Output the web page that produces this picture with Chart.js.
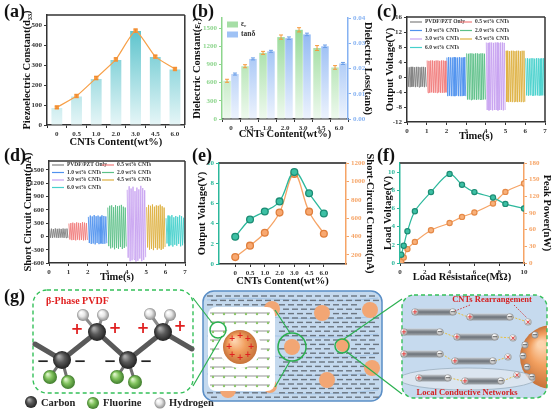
<!DOCTYPE html>
<html>
<head>
<meta charset="utf-8">
<script src="https://cdn.jsdelivr.net/npm/chart.js@4.4.1/dist/chart.umd.min.js"></script>
<style>
  body { margin: 0; background: #fff; }
  #wrap { position: relative; width: 554px; height: 411px; overflow: hidden; background: #fff; }
  canvas { position: absolute; }
  .tag { position: absolute; font: bold 18px 'Liberation Serif', 'DejaVu Serif', serif; color: #111; }
</style>
</head>
<body>
<div id="wrap">
  <canvas id="chartA" width="173" height="147" style="left:17px;top:6px"></canvas>
  <canvas id="chartB" width="191" height="140" style="left:187px;top:5px"></canvas>
  <canvas id="chartC" width="174" height="142" style="left:380px;top:5px"></canvas>
  <canvas id="chartD" width="172" height="138" style="left:18px;top:150px"></canvas>
  <canvas id="chartE" width="188" height="142" style="left:192px;top:150px"></canvas>
  <canvas id="chartF" width="176" height="138" style="left:378px;top:150px"></canvas>
  <canvas id="scheme" width="554" height="126" style="left:0;top:285px"></canvas>
  <div class="tag" style="left:4px;top:1px">(a)</div>
  <div class="tag" style="left:192px;top:1px">(b)</div>
  <div class="tag" style="left:377px;top:1px">(c)</div>
  <div class="tag" style="left:4px;top:145px">(d)</div>
  <div class="tag" style="left:192px;top:145px">(e)</div>
  <div class="tag" style="left:377px;top:145px">(f)</div>
  <div class="tag" style="left:4px;top:286px">(g)</div>
</div>
<script>
// ---- data ----
const contents = ['0', '0.5', '1.0', '2.0', '3.0', '4.5', '6.0'];

// (a) piezoelectric constant d33
const d33Bars = [85, 143, 230, 325, 470, 340, 278];
const d33Line = [88, 145, 235, 328, 472, 342, 280];
const d33Err = [6, 6, 8, 8, 8, 7, 6];

// (b) dielectric constant / loss
const epsR = [630, 870, 1090, 1350, 1470, 1170, 850];
const epsErr = [25, 25, 25, 35, 35, 40, 30];
const tanD = [0.0178, 0.0238, 0.0268, 0.0320, 0.0335, 0.0288, 0.0220];
const tanErr = [0.0004, 0.0004, 0.0004, 0.0005, 0.0005, 0.0005, 0.0004];

// (c) output voltage waveforms, peak / trough per half cycle (V)
const sampleNames = ['PVDF/PZT Only', '0.5 wt% CNTs', '1.0 wt% CNTs', '2.0 wt% CNTs', '3.0 wt% CNTs', '4.5 wt% CNTs', '6.0 wt% CNTs'];
const vPvdf = [2.7,-2.6,2.6,-2.7,2.7,-2.6,2.7,-2.6,2.6,-2.7,2.7,-2.6,2.7,-2.7,2.6,-2.6,2.7,-2.6,2.7,-2.7,2.6,-2.6];
const v05 = [4.4,-4.2,4.3,-4.2,4.4,-4.1,4.4,-4.2,4.3,-4.2,4.4,-4.2,4.4,-4.1,4.3,-4.2,4.4,-4.2,4.4,-4.2,4.3,-4.1];
const v10 = [5.2,-5.1,5.3,-5.0,5.2,-5.1,5.2,-5.1,5.3,-5.1,5.2,-5.0,5.2,-5.1,5.3,-5.1,5.2,-5.1,5.2,-5.0,5.3,-5.1];
const v20 = [6.3,-6.0,6.2,-6.0,6.3,-6.1,6.3,-6.0,6.2,-6.0,6.3,-6.1,6.3,-6.0,6.2,-6.0,6.3,-6.1,6.3,-6.0,6.2,-6.0];
const v30 = [9.2,-8.8,9.1,-8.9,9.2,-8.8,9.2,-8.9,9.1,-8.8,9.2,-8.8,9.2,-8.9,9.1,-8.8,9.2,-8.8,9.2,-8.9,9.1,-8.8];
const v45 = [7.0,-6.6,7.0,-6.7,6.9,-6.6,7.0,-6.7,7.0,-6.6,6.9,-6.6,7.0,-6.7,7.0,-6.6,6.9,-6.7,7.0,-6.6,7.0,-6.6];
const v60 = [5.0,-4.9,5.0,-5.0,4.9,-4.9,5.0,-4.9,5.0,-5.0,4.9,-4.9,5.0,-4.9,5.0,-5.0,4.9,-4.9,5.0,-4.9,5.0,-5.0];

// (d) short circuit current waveforms (nA)
const iPvdf = [170,-30,175,-35,165,-25,180,-30,170,-35,175,-30,168,-28,178,-34,172,-30,176,-32];
const i05 = [290,-70,300,-85,310,-80,295,-90,315,-75,305,-85,300,-80,320,-90,310,-85,300,-80];
const i10 = [440,-150,470,-170,450,-160,480,-180,455,-150,470,-175,445,-160,475,-170,460,-165,450,-155];
const i20 = [650,-220,690,-270,700,-250,660,-290,705,-260,680,-280,690,-240,710,-285,670,-260,650,-230];
const i30 = [1050,-480,1130,-560,1080,-540,1120,-520,1020,-570,1100,-550,1060,-500,1140,-560,1090,-530,1040,-470];
const i45 = [660,-250,710,-300,690,-280,720,-310,670,-260,700,-300,690,-270,715,-305,680,-280,650,-240];
const i60 = [410,-160,470,-220,450,-200,480,-230,430,-190,460,-210,440,-170,475,-225,455,-200,420,-160];

// (e) output voltage and short-circuit current vs CNT content
const outVoltage = [2.7, 4.4, 5.2, 6.2, 9.1, 7.0, 5.0];
const outCurrent = [175, 300, 440, 660, 1080, 670, 430];

// (f) load resistance sweep
const loadR = [0.1, 0.3, 0.6, 1.2, 2.5, 4, 5, 6, 7.5, 8.5, 10];
const loadV = [0.9, 1.9, 3.5, 5.7, 7.8, 9.8, 8.6, 7.8, 7.2, 6.5, 6.0];
const peakP = [3, 10, 25, 38, 59, 72, 83, 91, 107, 128, 143];

// ---- styling ----
const SERIF = "'Liberation Serif', 'DejaVu Serif', serif";
Chart.defaults.font.family = SERIF;
Chart.defaults.font.weight = 'bold';
Chart.defaults.font.size = 7;
Chart.defaults.animation = false;
Chart.defaults.plugins.legend.display = false;
Chart.defaults.plugins.tooltip.enabled = false;

const waveColors = ['#808080', '#f07c7c', '#4f92ee', '#5cc088', '#c7a2f0', '#deb040', '#45d0cc'];
const teal = '#2cb89c', orange = '#f6a466';

// error bars drawn through the dataset's own y scale
Chart.register({
  id: 'errBars',
  afterDatasetsDraw(chart) {
    const c = chart.ctx;
    chart.data.datasets.forEach((ds, i) => {
      if (!ds.errors) return;
      const meta = chart.getDatasetMeta(i);
      const sc = chart.scales[meta.yAxisID];
      c.save();
      c.strokeStyle = ds.errorColor;
      c.lineWidth = 1;
      meta.data.forEach((el, k) => {
        const v = ds.data[k], e = ds.errors[k];
        const y1 = sc.getPixelForValue(v + e), y2 = sc.getPixelForValue(v - e);
        c.beginPath();
        c.moveTo(el.x, y1); c.lineTo(el.x, y2);
        c.moveTo(el.x - 2, y1); c.lineTo(el.x + 2, y1);
        c.moveTo(el.x - 2, y2); c.lineTo(el.x + 2, y2);
        c.stroke();
      });
      c.restore();
    });
  }
});

// top / right frame lines
Chart.register({
  id: 'frame',
  afterDatasetsDraw(chart, args, o) {
    if (!o || (!o.top && !o.right)) return;
    const c = chart.ctx, a = chart.chartArea;
    c.save();
    c.lineWidth = o.width || 1.5;
    if (o.top) { c.strokeStyle = o.top; c.beginPath(); c.moveTo(a.left, a.top); c.lineTo(a.right, a.top); c.stroke(); }
    if (o.right) { c.strokeStyle = o.right; c.beginPath(); c.moveTo(a.right, a.top); c.lineTo(a.right, a.bottom); c.stroke(); }
    c.restore();
  }
});

// small legend inside the plot area, in columns
Chart.register({
  id: 'cornerLegend',
  afterDraw(chart, args, o) {
    if (!o || !o.show) return;
    const c = chart.ctx, a = chart.chartArea;
    c.save();
    c.font = 'bold ' + o.size + 'px ' + SERIF;
    c.textBaseline = 'middle';
    chart.data.datasets.forEach((ds, i) => {
      if (!ds.label) return;
      const col = i % o.cols, row = Math.floor(i / o.cols);
      const x = a.left + o.x0 + col * o.colW, y = a.top + o.y0 + row * o.rowH;
      if (o.box) {
        c.fillStyle = ds.legendColor;
        c.fillRect(x, y - 3, o.lineW, 6);
      } else {
        c.strokeStyle = ds.borderColor; c.lineWidth = 1.2;
        c.beginPath(); c.moveTo(x, y); c.lineTo(x + o.lineW, y); c.stroke();
      }
      c.fillStyle = '#333';
      c.fillText(ds.label, x + o.lineW + 3, y);
    });
    c.restore();
  }
});

function vGrad(top, bottom) {
  return ctx => {
    const ch = ctx.chart, a = ch.chartArea;
    if (!a) return top;
    const g = ch.ctx.createLinearGradient(0, a.bottom, 0, a.top);
    g.addColorStop(0, bottom);
    g.addColorStop(1, top);
    return g;
  };
}

function axis(o) {
  const col = o.color || '#333';
  const s = {
    type: o.type || 'linear',
    position: o.position,
    grid: { display: true, drawOnChartArea: false, drawTicks: true, tickLength: 3, color: col },
    border: { display: true, color: col, width: 1.5 },
    ticks: { color: o.tickColor || col, font: { size: 7 }, padding: 2, autoSkip: false, maxRotation: 0, includeBounds: false },
    title: { display: !!o.title, text: o.title, color: o.titleColor || o.tickColor || '#111', font: { size: 10.5 }, padding: o.titlePad || { top: 4, bottom: 4 } },
    afterFit: o.horizontal ? (sc => { sc.height = o.size; }) : (sc => { sc.width = o.size; })
  };
  if (o.min !== undefined) s.min = o.min;
  if (o.max !== undefined) s.max = o.max;
  if (o.step) s.ticks.stepSize = o.step;
  if (o.format) s.ticks.callback = o.format;
  else if (s.type === 'linear') s.ticks.callback = v => String(v);
  if (o.offset !== undefined) s.offset = o.offset;
  return s;
}

function waveSets(arrays) {
  return arrays.map((arr, s) => ({
    label: sampleNames[s],
    data: arr.map((v, k) => ({ x: s + (k + 0.5) / arr.length, y: v })),
    borderColor: waveColors[s],
    borderWidth: 0.9,
    pointRadius: 0,
    tension: 0
  }));
}

// (a)
new Chart(document.getElementById('chartA'), {
  type: 'bar',
  data: {
    labels: contents,
    datasets: [
      { type: 'line', data: d33Line, errors: d33Err, errorColor: '#f08a30', borderColor: '#f7a048', backgroundColor: '#f7a048',
        pointStyle: 'rect', pointRadius: 2.2, borderWidth: 1.2, tension: 0.15, order: 0 },
      { type: 'bar', data: d33Bars, backgroundColor: vGrad('#48bcc6', '#e6f6f7'), barPercentage: 0.55, categoryPercentage: 1, order: 1 }
    ]
  },
  options: {
    responsive: false,
    layout: { padding: { top: 9, right: 5 } },
    plugins: { frame: { top: '#333', right: '#333' } },
    scales: {
      x: axis({ type: 'category', horizontal: true, size: 28, title: 'CNTs Content(wt%)' }),
      y: axis({ position: 'left', size: 30, min: 0, max: 550, step: 100, title: 'Piezoelectric Constant(d₃₃)' })
    }
  }
});

// (b)
const green = '#8dd58d', blue = '#86b2f2';
new Chart(document.getElementById('chartB'), {
  type: 'bar',
  data: {
    labels: contents,
    datasets: [
      { label: 'εᵣ', data: epsR, errors: epsErr, errorColor: '#f59a3c', yAxisID: 'y', legendColor: '#a6dea6',
        backgroundColor: vGrad('#8cd68c', '#eef9ee'), barPercentage: 0.95, categoryPercentage: 0.88 },
      { label: 'tanδ', data: tanD, errors: tanErr, errorColor: '#6a9ee8', yAxisID: 'y2', legendColor: '#9fc2f5',
        backgroundColor: vGrad('#82aff2', '#edf3fd'), barPercentage: 0.95, categoryPercentage: 0.88 }
    ]
  },
  options: {
    responsive: false,
    layout: { padding: { top: 13 } },
    plugins: { cornerLegend: { show: true, box: true, cols: 1, x0: 5, y0: 6.5, rowH: 10, colW: 0, lineW: 11, size: 7.5 } },
    scales: {
      x: axis({ type: 'category', horizontal: true, size: 26, title: 'CNTs Content(wt%)' }),
      y: axis({ position: 'left', size: 35, min: 0, max: 1665, step: 300, color: green, title: 'Dielectric Constant(εᵣ)' }),
      y2: axis({ position: 'right', size: 30, min: 0, max: 0.04, step: 0.01, color: blue, title: 'Dielectric Loss(tanδ)',
        format: v => v.toFixed(2) })
    }
  }
});

// (c)
new Chart(document.getElementById('chartC'), {
  type: 'line',
  data: { datasets: waveSets([vPvdf, v05, v10, v20, v30, v45, v60]) },
  options: {
    responsive: false,
    layout: { padding: { top: 12, right: 9 } },
    plugins: {
      frame: { top: '#333', right: '#333' },
      cornerLegend: { show: true, cols: 2, x0: 3, y0: 5, rowH: 8.5, colW: 50, lineW: 12, size: 5.5 }
    },
    scales: {
      x: axis({ horizontal: true, size: 25, min: 0, max: 7, step: 1, title: 'Time(s)' }),
      y: axis({ position: 'left', size: 27, min: -12, max: 16, step: 4, title: 'Output Voltage(V)' })
    }
  }
});

// (d)
new Chart(document.getElementById('chartD'), {
  type: 'line',
  data: { datasets: waveSets([iPvdf, i05, i10, i20, i30, i45, i60]) },
  options: {
    responsive: false,
    layout: { padding: { top: 11, right: 5 } },
    plugins: {
      frame: { top: '#333', right: '#333' },
      cornerLegend: { show: true, cols: 2, x0: 3, y0: 4, rowH: 7.5, colW: 50, lineW: 12, size: 5.5 }
    },
    scales: {
      x: axis({ horizontal: true, size: 25, min: 0, max: 7, step: 1, title: 'Time(s)' }),
      y: axis({ position: 'left', size: 31, min: -600, max: 1700, step: 300, title: 'Short Circuit Current(nA)' })
    }
  }
});

// (e)
new Chart(document.getElementById('chartE'), {
  type: 'line',
  data: {
    datasets: [
      { data: outVoltage.map((v, i) => ({ x: i, y: v })), yAxisID: 'y', borderColor: teal, borderWidth: 1.3,
        pointBackgroundColor: '#3cc0a4', pointBorderColor: '#1d8c74', pointRadius: 3.4, tension: 0.4 },
      { data: outCurrent.map((v, i) => ({ x: i, y: v })), yAxisID: 'y2', borderColor: orange, borderWidth: 1.3,
        pointBackgroundColor: '#f8a870', pointBorderColor: '#e07f3c', pointRadius: 3.4, tension: 0.4 }
    ]
  },
  options: {
    responsive: false,
    layout: { padding: { top: 13 } },
    plugins: { frame: { top: '#555', width: 2 } },
    scales: {
      x: Object.assign(axis({ horizontal: true, size: 28, min: -1.1, max: 7.5, title: 'CNTs Content(wt%)',
        format: v => contents[v] !== undefined ? contents[v] : '' }),
        { afterBuildTicks: sc => { sc.ticks = contents.map((_, i) => ({ value: i })); } }),
      y: axis({ position: 'left', size: 27, min: 0, max: 10, step: 2, color: teal, title: 'Output Voltage(V)' }),
      y2: axis({ position: 'right', size: 34, min: 100, max: 1200, step: 200, color: orange, title: 'Short-Circuit Current(nA)' })
    }
  }
});

// (f)
new Chart(document.getElementById('chartF'), {
  type: 'line',
  data: {
    datasets: [
      { data: loadR.map((r, i) => ({ x: r, y: loadV[i] })), yAxisID: 'y', borderColor: teal, borderWidth: 1.2,
        pointBackgroundColor: '#3cc0a4', pointBorderColor: '#1d8c74', pointRadius: 2.6, tension: 0.3 },
      { data: loadR.map((r, i) => ({ x: r, y: peakP[i] })), yAxisID: 'y2', borderColor: orange, borderWidth: 1.2,
        pointBackgroundColor: '#f8b07a', pointBorderColor: '#e58a48', pointRadius: 2.6, tension: 0.3 }
    ]
  },
  options: {
    responsive: false,
    layout: { padding: { top: 13 } },
    plugins: { frame: { top: '#555', width: 2 } },
    scales: {
      x: axis({ horizontal: true, size: 25, min: 0, max: 10, step: 2, title: 'Load Resistance(MΩ)' }),
      y: axis({ position: 'left', size: 22, min: 0, max: 11, step: 2, color: teal, title: 'Load Voltage(V)' }),
      y2: axis({ position: 'right', size: 30, min: 0, max: 180, step: 30, color: orange, title: 'Peak Power(nW)',
        titlePad: { top: 1, bottom: 4 } })
    }
  }
});

// ---- (g) schematic illustration ----
(function drawScheme() {
  const c = document.getElementById('scheme').getContext('2d');
  c.translate(0, -285);

  function sphere(x, y, r, light, base, dark) {
    const g = c.createRadialGradient(x - r * 0.35, y - r * 0.4, r * 0.1, x, y, r);
    g.addColorStop(0, light); g.addColorStop(0.45, base); g.addColorStop(1, dark);
    c.fillStyle = g; c.beginPath(); c.arc(x, y, r, 0, Math.PI * 2); c.fill();
  }
  const carbon = (x, y, r) => sphere(x, y, r, '#a8a8a8', '#5a5a5a', '#222');
  const fluor = (x, y, r) => sphere(x, y, r, '#dcf3c8', '#82c35e', '#3f7c2c');
  const hydro = (x, y, r) => sphere(x, y, r, '#ffffff', '#e6e6e6', '#8c8c8c');
  function line(pts, col, w) {
    c.strokeStyle = col; c.lineWidth = w; c.beginPath();
    pts.forEach((p, i) => i ? c.lineTo(p[0], p[1]) : c.moveTo(p[0], p[1]));
    c.stroke();
  }

  // left: beta-phase chain
  c.setLineDash([4, 3]); c.strokeStyle = '#35c05a'; c.lineWidth = 1.4;
  c.beginPath(); c.roundRect(33, 290, 160, 103, 14); c.stroke(); c.setLineDash([]);
  c.fillStyle = '#e02020'; c.font = 'bold 10px ' + SERIF; c.textBaseline = 'middle';
  c.fillText('β-Phase PVDF', 46, 301);
  c.lineCap = 'round';
  line([[35, 344], [62, 360], [97, 332], [128, 360], [163, 332], [192, 349]], '#595959', 5);
  [[97, 332, 83, 315], [97, 332, 103, 315], [163, 332, 150, 314], [163, 332, 170, 315]].forEach(b => line([[b[0], b[1]], [b[2], b[3]]], '#8a8a8a', 3));
  [[62, 360, 50, 377], [62, 360, 68, 382], [128, 360, 117, 377], [128, 360, 135, 382]].forEach(b => line([[b[0], b[1]], [b[2], b[3]]], '#707070', 3));
  c.lineCap = 'butt';
  [[83, 315], [103, 315], [150, 314], [170, 315]].forEach(p => hydro(p[0], p[1], 6));
  [[50, 377], [68, 382], [117, 377], [135, 382]].forEach(p => fluor(p[0], p[1], 7));
  [[97, 332], [163, 332], [62, 360], [128, 360]].forEach(p => carbon(p[0], p[1], 9));
  c.font = 'bold 15px DejaVu Sans'; c.textAlign = 'center';
  c.fillStyle = '#e02020';
  [[77, 330], [115, 329], [143, 329], [180, 327]].forEach(p => c.fillText('+', p[0], p[1]));
  c.fillStyle = '#222';
  [[43, 362], [80, 362], [110, 362], [146, 362]].forEach(p => c.fillText('−', p[0], p[1]));
  c.textAlign = 'left';
  carbon(31, 402, 6); fluor(93, 403, 6); hydro(160, 403, 5.5);
  c.fillStyle = '#222'; c.font = 'bold 10.5px ' + SERIF;
  c.fillText('Carbon', 41, 403); c.fillText('Fluorine', 103, 403); c.fillText('Hydrogen', 169, 403);

  // middle: composite film
  c.fillStyle = '#c4d9ee'; c.strokeStyle = '#5a8ec6'; c.lineWidth = 1.5;
  c.beginPath(); c.roundRect(203, 291, 179, 110, 11); c.fill(); c.stroke();
  c.strokeStyle = '#a6c6e6'; c.lineWidth = 1;
  [300, 318, 336, 356, 374, 392].forEach((y, i) => {
    c.beginPath(); c.moveTo(207, y); c.bezierCurveTo(260, y - 6 + i, 320, y + 6, 378, y - 2); c.stroke();
  });
  const blobs = [[272, 309, 8], [322, 313, 8], [370, 310, 8], [292, 347, 8], [343, 345, 7], [372, 368, 8], [327, 380, 8], [228, 390, 8], [270, 386, 7]];
  c.strokeStyle = '#6b7580'; c.lineWidth = 1.4;
  for (let r = 0; r < 24; r++) {
    const y = 296 + r * 4.4;
    for (let x = 207 + (r % 2) * 4; x < 376; x += 9) {
      if (x > 206 && x < 277 && y > 306 && y < 392) continue;
      if (blobs.some(b => Math.hypot(x + 3 - b[0], y - b[1]) < b[2] + 1)) continue;
      c.beginPath(); c.moveTo(x, y); c.lineTo(x + 6, y); c.stroke();
    }
  }
  c.fillStyle = '#f2a674';
  blobs.forEach(b => { c.beginPath(); c.arc(b[0], b[1], b[2], 0, Math.PI * 2); c.fill(); });
  c.fillStyle = '#fff'; c.beginPath(); c.roundRect(208, 307, 67, 84, 8); c.fill();
  // polymer chains around the particle
  for (let r = 0; r < 9; r++) {
    const y = 311 + r * 9;
    const pts = [];
    for (let x = 210; x <= 273; x += 4) pts.push([x, y + ((x / 4) % 2 ? 2 : -2)]);
    line(pts, '#7a7a7a', 0.8);
    c.fillStyle = '#8cc56a';
    for (let x = 213; x < 273; x += 11) { c.beginPath(); c.arc(x, y + 3, 1.2, 0, Math.PI * 2); c.fill(); }
  }
  c.fillStyle = '#fff'; c.beginPath(); c.arc(240, 347, 21, 0, Math.PI * 2); c.fill();
  sphere(240, 347, 17, '#fcd3ad', '#f2a060', '#c8733a');
  c.fillStyle = '#e02020'; c.font = 'bold 8px DejaVu Sans'; c.textAlign = 'center';
  for (let k = 0; k < 8; k++) {
    const ang = k * Math.PI / 4;
    c.fillText('+', 240 + 11 * Math.cos(ang), 347 + 11 * Math.sin(ang));
  }
  c.textAlign = 'left';
  c.strokeStyle = '#2bb050'; c.lineWidth = 1.5;
  [[218, 330, 8], [292, 347, 14], [342, 346, 7]].forEach(g => { c.beginPath(); c.arc(g[0], g[1], g[2], 0, Math.PI * 2); c.stroke(); });
  c.lineWidth = 1.2;
  line([[193, 298], [213, 324]], '#2bb050', 1.2);
  line([[193, 386], [222, 336]], '#2bb050', 1.2);
  line([[275, 310], [290, 333]], '#2bb050', 1.2);
  line([[275, 387], [290, 361]], '#2bb050', 1.2);
  line([[344, 339], [402, 299]], '#2bb050', 1.2);
  line([[347, 352], [402, 394]], '#2bb050', 1.2);

  // right: CNT rearrangement
  c.save();
  c.beginPath(); c.roundRect(402, 295, 145, 103, 12); c.fillStyle = '#c6daee'; c.fill(); c.clip();
  sphere(552, 357, 32, '#fcd3ad', '#f2a060', '#c8733a');
  c.fillStyle = 'rgba(225,232,240,0.75)'; c.strokeStyle = '#9aaebf'; c.lineWidth = 0.8;
  c.beginPath(); c.ellipse(467, 379, 68, 11, 0, 0, Math.PI * 2); c.fill(); c.stroke();
  c.restore();
  c.setLineDash([4, 3]); c.strokeStyle = '#35c05a'; c.lineWidth = 1.4;
  c.beginPath(); c.roundRect(402, 295, 145, 103, 12); c.stroke(); c.setLineDash([]);

  function endCap(x, y, sign) {
    sphere(x, y, 3.6, '#ffffff', '#e2e2e2', '#8a8a8a');
    c.fillStyle = sign === '+' ? '#e02020' : '#333';
    c.font = 'bold 7px DejaVu Sans'; c.textAlign = 'center';
    c.fillText(sign === '+' ? '+' : '−', x, y + 0.5);
    c.textAlign = 'left';
  }
  function tube(x1, x2, y) {
    const g = c.createLinearGradient(0, y - 3.5, 0, y + 3.5);
    g.addColorStop(0, '#c9ced3'); g.addColorStop(0.5, '#6d737a'); g.addColorStop(1, '#a3a9ae');
    c.fillStyle = g; c.beginPath(); c.roundRect(x1, y - 3.5, x2 - x1, 7, 3.5); c.fill();
    endCap(x1 + 2, y, '+'); endCap(x2 - 2, y, '-');
  }
  const tubes = [[413, 455, 312], [468, 512, 317], [402, 442, 332], [455, 497, 337], [402, 442, 354], [453, 495, 361], [417, 450, 378], [463, 503, 381]];
  const ions = [[528, 322], [513, 338], [508, 357], [517, 375]];
  c.setLineDash([2, 1.5]); c.strokeStyle = '#e8c040'; c.lineWidth = 1;
  for (let k = 0; k < 4; k++) {
    const a = tubes[2 * k], b = tubes[2 * k + 1];
    line([[a[1], a[2]], [b[0], b[2]]], '#e8c040', 1);
    line([[b[1], b[2]], ions[k]], '#e8c040', 1);
  }
  c.setLineDash([]);
  tubes.forEach(t => tube(t[0], t[1], t[2]));
  ions.forEach(p => {
    sphere(p[0], p[1], 3.6, '#ffffff', '#e8e8e8', '#999');
    c.fillStyle = '#e02020'; c.font = 'bold 6px DejaVu Sans'; c.textAlign = 'center';
    c.fillText('×', p[0], p[1] + 0.5); c.textAlign = 'left';
  });
  [[535, 335], [525, 345], [523, 356], [527, 367], [532, 377]].forEach(p => {
    sphere(p[0], p[1], 3.4, '#ffffff', '#dcdcdc', '#888');
    c.fillStyle = '#333'; c.font = 'bold 7px DejaVu Sans'; c.textAlign = 'center';
    c.fillText('−', p[0], p[1] + 0.5); c.textAlign = 'left';
  });
  c.setLineDash([1.5, 1.5]);
  line([[470, 305], [455, 311]], '#d03030', 0.9);
  line([[514, 305], [527, 318]], '#d03030', 0.9);
  c.setLineDash([]);
  c.fillStyle = '#d42020'; c.font = 'bold 8.5px ' + SERIF; c.textAlign = 'center';
  c.fillText('CNTs Rearrangement', 492, 300);
  c.fillText('Local Conductive Networks', 467, 393);
})();
</script>
</body>
</html>
